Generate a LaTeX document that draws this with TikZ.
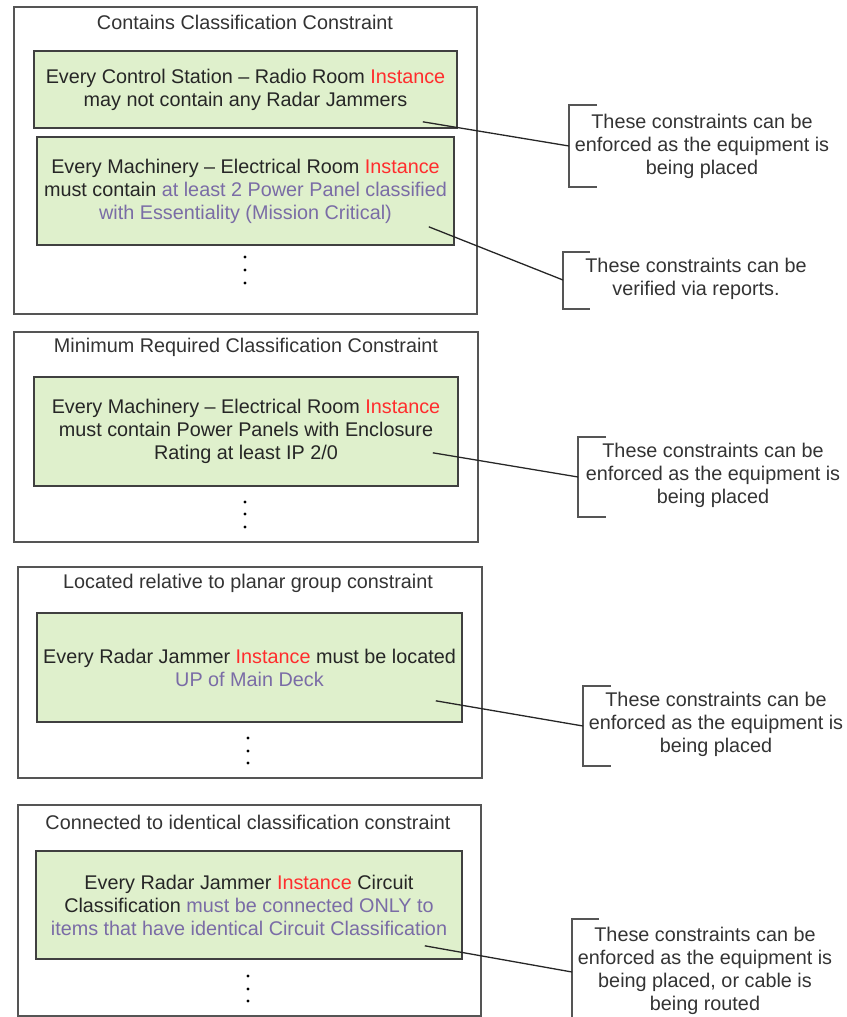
\documentclass[tikz,border=0pt]{standalone}
\usepackage{fontspec}
\setmainfont{Liberation Sans}
\definecolor{boxgreen}{RGB}{223,240,204}
\definecolor{instred}{RGB}{255,45,45}
\definecolor{condpurple}{RGB}{122,108,166}
\definecolor{framegray}{RGB}{85,85,85}
\newcommand{\diagfont}{\fontsize{19.8}{23}\selectfont}
\newcommand{\inst}{\textcolor{instred}{Instance}}
\newcommand{\cond}[1]{\textcolor{condpurple}{#1}}

\begin{document}
\begin{tikzpicture}[x=1pt,y=-1pt,
   frame/.style={draw=framegray, line width=1.6pt},
   ctitle/.style={text=black!80, font=\diagfont},
   cbox/.style={draw=black!75, line width=1.6pt, fill=boxgreen, inner sep=0pt,
      align=center, text=black!85, font=\diagfont},
   note/.style={inner sep=0pt, align=center, text=black!80, font=\diagfont},
   link/.style={draw=black!85, line width=1.3pt},
   bracket/.style={draw=framegray, line width=2pt}]%
   \useasboundingbox (0,0) rectangle (846,1017);

   % contains classification
   \draw[frame] (14,7) rectangle (477,314);
   \node[ctitle] (titleA) at (245,22) {Contains Classification Constraint};
   \node[cbox, minimum width=423pt, minimum height=77pt] (contA) at (245.5,89.5)
      {Every Control Station -- Radio Room \inst\\may not contain any Radar Jammers};
   \node[cbox, minimum width=417pt, minimum height=108pt] (contB) at (245.5,191)
      {Every Machinery -- Electrical Room \inst\\must contain \cond{at least 2 Power Panel classified}\\\cond{with Essentiality (Mission Critical)}};
   \fill (245,257) circle (1.7) (245,270) circle (1.7) (245,283) circle (1.7);
   \node[note] (noteA) at (702,146) {These constraints can be\\enforced as the equipment is\\being placed};
   \node[note] (noteB) at (696,278.5) {These constraints can be\\verified via reports.};
   \coordinate (brA) at (569,146);
   \coordinate (brB) at (563,280);
   \draw[bracket] (597,105) -- (569,105) -- (569,187) -- (597,187);
   \draw[bracket] (590,252) -- (563,252) -- (563,309) -- (590,309);
   \draw[link] ([xshift=-35pt,yshift=7pt]contA.south east) -- (brA);
   \draw[link] ([xshift=-26pt,yshift=19pt]contB.south east) -- (brB);

   % minimum required classification
   \draw[frame] (14,332) rectangle (478,542);
   \node[ctitle] (titleB) at (246,347) {Minimum Required Classification Constraint};
   \node[cbox, minimum width=424pt, minimum height=109pt] (minreq) at (246,431.5)
      {Every Machinery -- Electrical Room \inst\\must contain Power Panels with Enclosure\\Rating at least IP 2/0};
   \fill (245,502) circle (1.7) (245,514) circle (1.7) (245,527) circle (1.7);
   \node[note] (noteC) at (713,475) {These constraints can be\\enforced as the equipment is\\being placed};
   \coordinate (brC) at (578,477);
   \draw[bracket] (606,437) -- (578,437) -- (578,517) -- (606,517);
   \draw[link] ([xshift=-26pt,yshift=34pt]minreq.south east) -- (brC);

   % located relative to planar group
   \draw[frame] (18,567) rectangle (482,778);
   \node[ctitle] (titleC) at (248,583) {Located relative to planar group constraint};
   \node[cbox, minimum width=425pt, minimum height=109pt] (located) at (249.5,667.5)
      {Every Radar Jammer \inst{} must be located\\\cond{UP of Main Deck}};
   \fill (248,738) circle (1.7) (248,751) circle (1.7) (248,763) circle (1.7);
   \node[note] (noteD) at (716,724) {These constraints can be\\enforced as the equipment is\\being placed};
   \coordinate (brD) at (583,726);
   \draw[bracket] (611,686) -- (583,686) -- (583,766) -- (611,766);
   \draw[link] ([xshift=-27pt,yshift=22pt]located.south east) -- (brD);

   % connected to identical classification
   \draw[frame] (18,805) rectangle (481,1016);
   \node[ctitle] (titleD) at (248,822) {Connected to identical classification constraint};
   \node[cbox, minimum width=426pt, minimum height=108pt] (connected) at (249,905)
      {Every Radar Jammer \inst{} Circuit\\Classification \cond{must be connected ONLY to}\\\cond{items that have identical Circuit Classification}};
   \fill (248,976) circle (1.7) (248,989) circle (1.7) (248,1001) circle (1.7);
   \node[note] (noteE) at (705,971) {These constraints can be\\enforced as the equipment is\\being placed, or cable is\\being routed};
   \coordinate (brE) at (572,972);
   \draw[bracket] (599,919) -- (572,919) -- (572,1025) -- (599,1025);
   \draw[link] ([xshift=-38pt,yshift=14pt]connected.south east) -- (brE);
\end{tikzpicture}
\end{document}
